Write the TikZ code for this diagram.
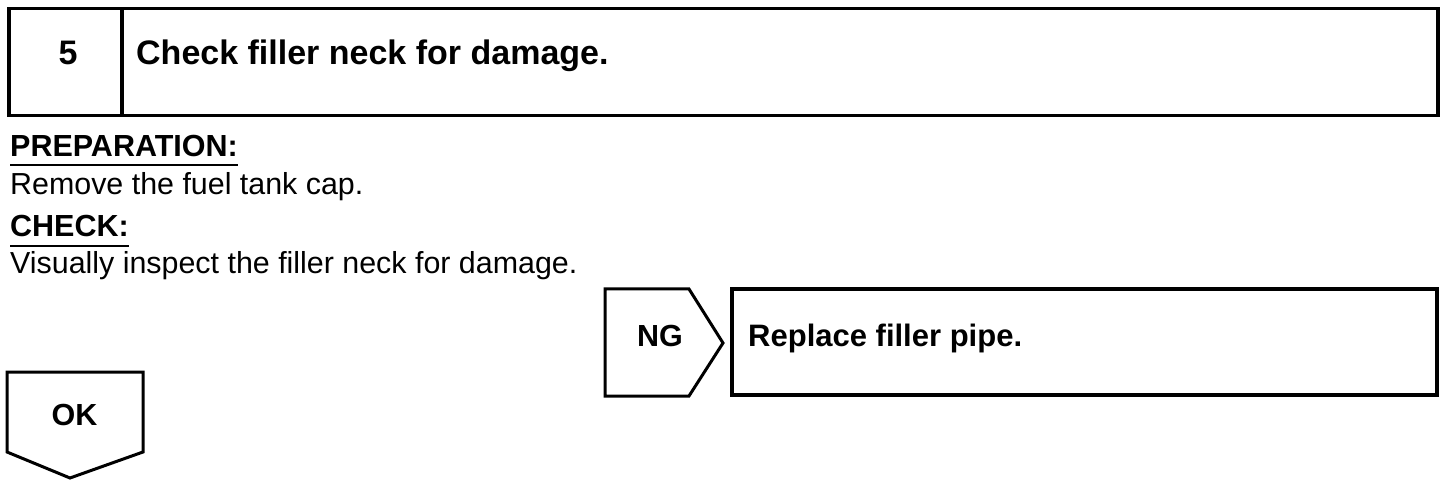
\documentclass[tikz,border=0pt]{standalone}
\usepackage{fontspec}
\setmainfont{Liberation Sans}
\begin{document}
\begin{tikzpicture}[x=1pt,y=-1pt,
  boxline/.style={draw=black,line width=3.5pt,inner sep=0pt},
  headtext/.style={anchor=base west,inner sep=0pt,font=\fontsize{34}{40}\selectfont\bfseries},
  labtext/.style={anchor=base west,inner sep=0pt,font=\fontsize{30.5}{36}\selectfont\bfseries},
  bodytext/.style={anchor=base west,inner sep=0pt,font=\fontsize{30.4}{36}\selectfont},
  uline/.style={line width=2pt}]
\useasboundingbox (0,0) rectangle (1456,486);
% header box
\node[boxline,minimum width=113pt,minimum height=107pt] (numbox) at (65.5,62) {};
\node[boxline,minimum width=1316pt,minimum height=107pt] (titlebox) at (780,62) {};
\node[headtext,anchor=base] (num) at (68,65) {5};
\node[headtext] (title) at (136,65) {Check filler neck for damage.};
% preparation / check
\node[labtext] (prep) at (10,157) {PREPARATION:};
\draw[uline] ([yshift=-8pt]prep.base west) -- ([yshift=-8pt]prep.base east);
\node[bodytext] (prept) at (10,195) {Remove the fuel tank cap.};
\node[labtext] (check) at (10,237) {CHECK:};
\draw[uline] ([yshift=-9pt]check.base west) -- ([yshift=-9pt]check.base east);
\node[bodytext] (checkt) at (10,274) {Visually inspect the filler neck for damage.};
% NG branch
\coordinate (ng1) at (605,289);
\coordinate (ng2) at (689,289);
\coordinate (ng3) at (723,343);
\coordinate (ng4) at (689,396);
\coordinate (ng5) at (605,396);
\draw[line width=3pt,line join=miter] (ng1) -- (ng2) -- (ng3) -- (ng4) -- (ng5) -- cycle;
\node[labtext,anchor=base] (ng) at (660,346) {NG};
\node[draw=black,line width=3.2pt,minimum width=705pt,minimum height=106pt,inner sep=0pt] (ngbox) at (1084.5,342) {};
\node[labtext,font=\fontsize{31}{36}\selectfont\bfseries] (ngt) at (748,346) {Replace filler pipe.};
% OK branch
\coordinate (ok1) at (7,372);
\coordinate (ok2) at (143,372);
\coordinate (ok3) at (143,452);
\coordinate (ok4) at (70,478);
\coordinate (ok5) at (7,452);
\draw[line width=3pt,line join=miter] (ok1) -- (ok2) -- (ok3) -- (ok4) -- (ok5) -- cycle;
\node[labtext,anchor=base] (ok) at (74.5,425) {OK};
\end{tikzpicture}
\end{document}
